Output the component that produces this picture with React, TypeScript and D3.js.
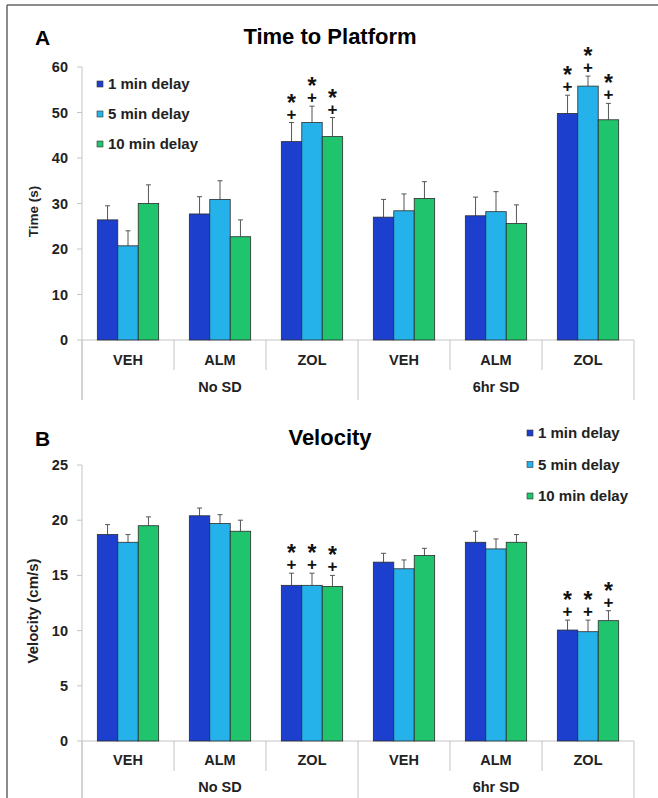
import React from 'react';
import * as d3 from 'd3';

const categories = ['VEH', 'ALM', 'ZOL', 'VEH', 'ALM', 'ZOL'];
const groups = ['No SD', '6hr SD'];
const seriesNames = ['1 min delay', '5 min delay', '10 min delay'];
const colors = ['#1d3fce', '#25b2ea', '#1fc46c'];

// Time to platform (s)
const time1 = [26.4, 27.7, 43.6, 27.0, 27.3, 49.8];
const time5 = [20.7, 30.9, 47.8, 28.4, 28.2, 55.8];
const time10 = [30.0, 22.7, 44.7, 31.1, 25.6, 48.4];
const timeErr1 = [3.1, 3.8, 4.2, 3.9, 4.1, 4.0];
const timeErr5 = [3.3, 4.1, 3.6, 3.7, 4.4, 2.2];
const timeErr10 = [4.1, 3.7, 4.2, 3.7, 4.1, 3.6];

// Velocity (cm/s)
const vel1 = [18.7, 20.4, 14.1, 16.2, 18.0, 10.05];
const vel5 = [18.0, 19.7, 14.1, 15.6, 17.4, 9.9];
const vel10 = [19.5, 19.0, 14.0, 16.8, 18.0, 10.9];
const velErr1 = [0.9, 0.7, 1.1, 0.8, 1.0, 0.9];
const velErr5 = [0.7, 0.8, 1.1, 0.8, 0.9, 1.05];
const velErr10 = [0.8, 1.0, 1.0, 0.65, 0.7, 0.9];

// categories marked with * and + (all three delays)
const significant = [false, false, true, false, false, true];

const timeTicks = [0, 10, 20, 30, 40, 50, 60];
const velTicks = [0, 5, 10, 15, 20, 25];

const FONT = '"Liberation Sans", Arial, sans-serif';

type PanelProps = {
  letter: string;
  title: string;
  yLabel: string;
  yLabelSize: number;
  means: number[][];
  errs: number[][];
  ticks: number[];
  yBottom: number;
  yTop: number;
  titleY: number;
  legendX: number;
  legendY: number;
  legendStep: number;
  labelY: number;
  sepEnd: number;
};

const Panel = ({ letter, title, yLabel, yLabelSize, means, errs, ticks, yBottom, yTop, titleY, legendX, legendY, legendStep, labelY, sepEnd }: PanelProps) => {
  const x0 = d3.scaleBand<number>().domain(d3.range(categories.length)).range([82, 634]).padding(0);
  const x1 = d3.scaleBand<number>().domain(d3.range(seriesNames.length)).range([0, x0.bandwidth()]).paddingInner(0).paddingOuter(0.75);
  const y = d3.scaleLinear().domain([0, d3.max(ticks) as number]).range([yBottom, yTop]);
  const axisColor = '#c4c4c4';

  return (
    <g fontFamily={FONT} fontWeight="bold">
      <text x={35} y={titleY + 1} fontSize={21}>{letter}</text>
      <text x={330} y={titleY} fontSize={22} textAnchor="middle">{title}</text>

      {/* y axis */}
      <line x1={82} x2={82} y1={y(ticks[ticks.length - 1])} y2={sepEnd} stroke={axisColor} />
      {ticks.map(t => (
        <g key={t}>
          <line x1={77} x2={82} y1={y(t)} y2={y(t)} stroke={axisColor} />
          <text x={68} y={y(t)} dy="0.35em" fontSize={14.5} textAnchor="end" fill="#222">{t}</text>
        </g>
      ))}
      <text transform={`translate(38,${(yBottom + yTop) / 2 + 8}) rotate(-90)`} fontSize={yLabelSize} textAnchor="middle" fill="#222">{yLabel}</text>

      {/* x axis and separators */}
      <line x1={82} x2={634} y1={yBottom} y2={yBottom} stroke={axisColor} />
      {categories.map((c, i) => (
        <g key={i}>
          {i > 0 && i % 3 !== 0 && (
            <line x1={x0(i)} x2={x0(i)} y1={yBottom} y2={yBottom + 30} stroke={axisColor} />
          )}
          <text x={(x0(i) as number) + x0.bandwidth() / 2} y={labelY} fontSize={14.5} textAnchor="middle" fill="#222">{c}</text>
        </g>
      ))}
      {[0, 3, 6].map(i => {
        const xx = i < 6 ? (x0(i) as number) : 634;
        return <line key={i} x1={xx} x2={xx} y1={yBottom} y2={sepEnd} stroke={axisColor} />;
      })}
      {groups.map((g, gi) => {
        const a = x0(gi * 3) as number;
        const b = gi * 3 + 3 < 6 ? (x0(gi * 3 + 3) as number) : 634;
        return <text key={g} x={(a + b) / 2} y={labelY + 27} fontSize={14.5} textAnchor="middle" fill="#222">{g}</text>;
      })}

      {/* bars */}
      {categories.map((c, i) => (
        <g key={i} transform={`translate(${x0(i)},0)`}>
          {seriesNames.map((s, si) => {
            const bx = x1(si) as number;
            const bw = x1.bandwidth();
            const m = means[si][i];
            const top = y(m + errs[si][i]);
            const cx = bx + bw / 2;
            return (
              <g key={s}>
                <line x1={cx} x2={cx} y1={y(m)} y2={top} stroke="#555" strokeWidth={1} />
                <line x1={cx - 2.5} x2={cx + 2.5} y1={top} y2={top} stroke="#555" strokeWidth={1} />
                <rect x={bx} y={y(m)} width={bw} height={y(0) - y(m)} fill={colors[si]} stroke="#2b2b2b" strokeWidth={0.8} />
                {significant[i] && (
                  <text x={cx} y={top - 12} textAnchor="middle" fill="#111">
                    <tspan x={cx} fontSize={23}>*</tspan>
                    <tspan x={cx} dy={9} fontSize={17}>+</tspan>
                  </text>
                )}
              </g>
            );
          })}
        </g>
      ))}

      {/* legend */}
      {seriesNames.map((s, si) => (
        <g key={s} transform={`translate(${legendX},${legendY + si * legendStep})`}>
          <rect x={0} y={-3} width={6} height={6} fill={colors[si]} stroke="#333" strokeWidth={0.6} />
          <text x={11} y={0} dy="0.35em" fontSize={15} fill="#222">{s}</text>
        </g>
      ))}
    </g>
  );
};

export default function App() {
  return (
    <svg width={658} height={798} style={{ position: 'absolute', left: 0, top: 0, background: '#fff' }}>
      <rect width={658} height={798} fill="#fff" />
      <line x1={7} x2={658} y1={5} y2={5} stroke="#666" strokeWidth={1.5} />
      <line x1={7} x2={7} y1={5} y2={798} stroke="#666" strokeWidth={1.5} />
      <Panel
        letter="A"
        title="Time to Platform"
        yLabel="Time (s)"
        yLabelSize={13.5}
        means={[time1, time5, time10]}
        errs={[timeErr1, timeErr5, timeErr10]}
        ticks={timeTicks}
        yBottom={340}
        yTop={67}
        titleY={44}
        legendX={97}
        legendY={84}
        legendStep={30}
        labelY={365}
        sepEnd={400}
      />
      <Panel
        letter="B"
        title="Velocity"
        yLabel="Velocity (cm/s)"
        yLabelSize={15}
        means={[vel1, vel5, vel10]}
        errs={[velErr1, velErr5, velErr10]}
        ticks={velTicks}
        yBottom={741}
        yTop={465}
        titleY={445}
        legendX={527}
        legendY={433}
        legendStep={31.5}
        labelY={765}
        sepEnd={798}
      />
    </svg>
  );
}
